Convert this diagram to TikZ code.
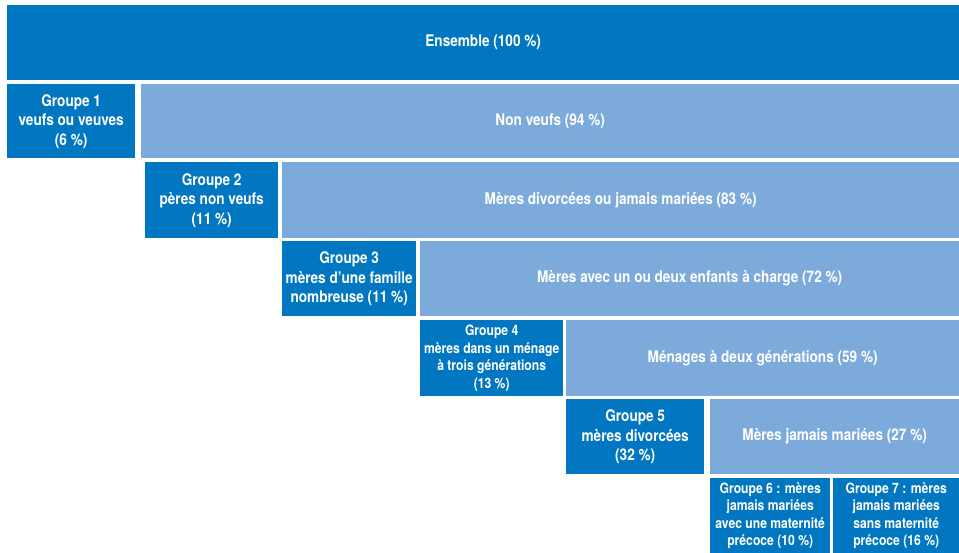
\documentclass[tikz,border=0pt]{standalone}
\usepackage{fontspec}
\setmainfont{TeX Gyre Heros}[FakeStretch=0.85]
\usetikzlibrary{positioning}
\definecolor{dunkel}{RGB}{0,119,192}
\definecolor{hell}{RGB}{124,170,218}

\tikzset{
  box/.style={anchor=north west, inner sep=0pt, align=center, text=white,
    font=\bfseries\fontsize{16}{19.5}\selectfont},
  small/.style={font=\bfseries\fontsize{14.3}{17.5}\selectfont},
  grp/.style={box, fill=dunkel},
  rest/.style={box, fill=hell},
  sz/.style 2 args={minimum width=#1pt, minimum height=#2pt},
}

\begin{document}
\begin{tikzpicture}[x=1pt,y=-1pt]
  \useasboundingbox (0,0) rectangle (959,553);
  \node[grp, sz={952}{75}] (ens) at (7,5) {Ensemble (100~\%)};

  \node[grp, sz={128}{74}] (g1) at (7,84) {Groupe 1\\veufs ou veuves\\(6~\%)};
  \node[rest, sz={818}{74}] (nv) at (141,84) {Non veufs (94~\%)};

  \node[grp, sz={133}{76}] (g2) at (145,162) {Groupe 2\\pères non veufs\\(11~\%)};
  \node[rest, sz={677}{76}] (mdiv) at (282,162) {Mères divorcées ou jamais mariées (83~\%)};

  \node[grp, sz={134}{75}] (g3) at (282,241) {Groupe 3\\mères d’une famille\\nombreuse (11~\%)};
  \node[rest, sz={539}{75}] (mav) at (420,241) {Mères avec un ou deux enfants à charge (72~\%)};

  \node[grp, small, sz={143}{76}] (g4) at (420,320) {Groupe 4\\mères dans un ménage\\à trois générations\\(13~\%)};
  \node[rest, sz={393}{76}] (men) at (566,320) {Ménages à deux générations (59~\%)};

  \node[grp, sz={138}{75}] (g5) at (566,399) {Groupe 5\\mères divorcées\\(32~\%)};
  \node[rest, sz={249}{75}] (mjm) at (710,399) {Mères jamais mariées (27~\%)};

  \node[grp, small, sz={120}{75}] (g6) at (710,478) {Groupe 6 : mères\\jamais mariées\\avec une maternité\\précoce (10~\%)};
  \node[grp, small, sz={126}{75}] (g7) at (833,478) {Groupe 7 : mères\\jamais mariées\\sans maternité\\précoce (16~\%)};
\end{tikzpicture}
\end{document}
